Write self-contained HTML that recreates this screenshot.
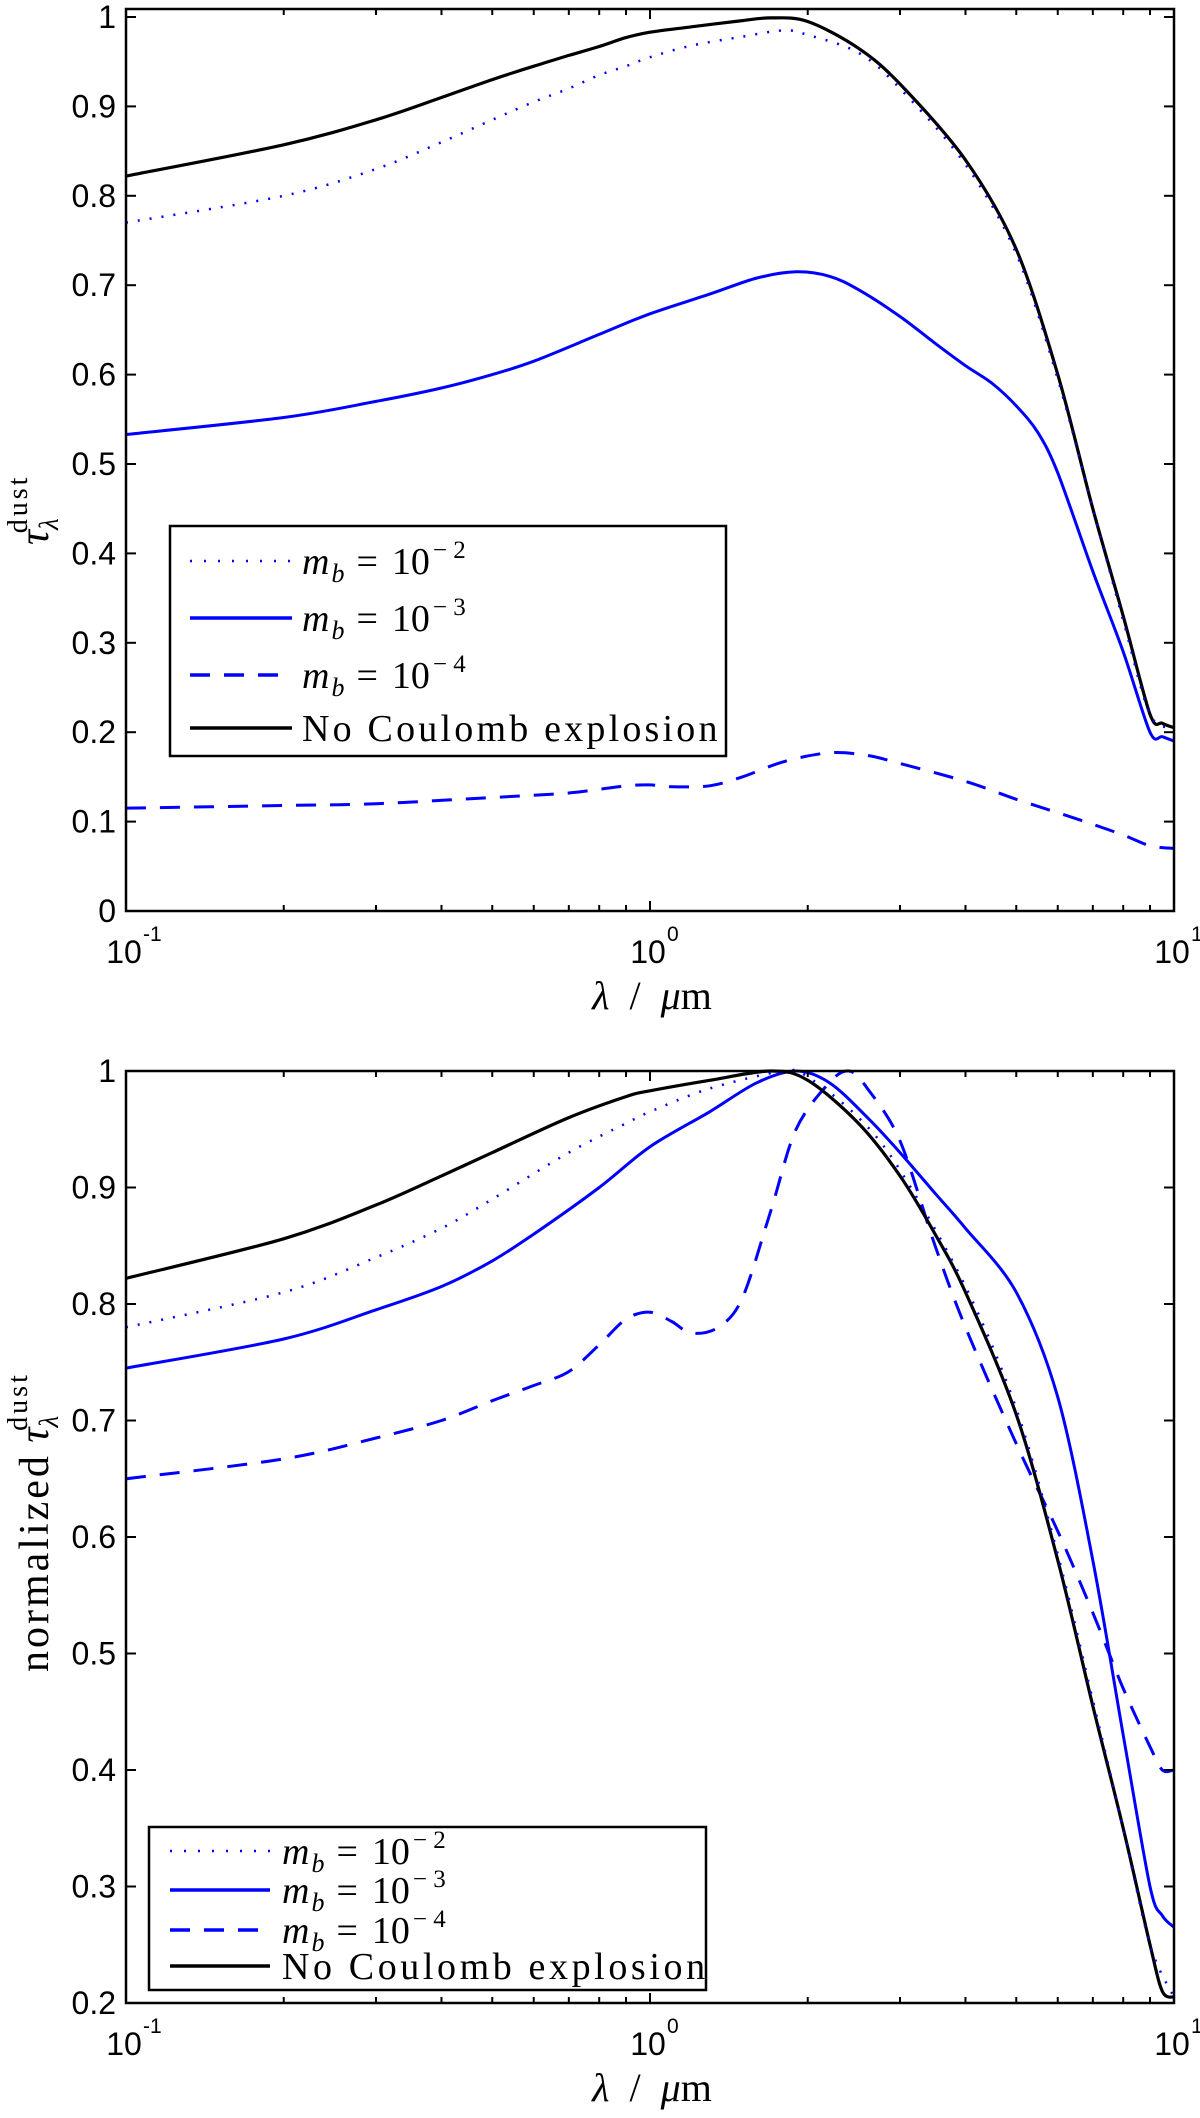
<!DOCTYPE html>
<html><head><meta charset="utf-8"><style>
html,body{margin:0;padding:0;background:#fff;}
svg{display:block;}
.tk{font-family:"Liberation Sans",sans-serif;font-size:32px;fill:#000;}
.sr{font-family:"Liberation Serif",serif;fill:#000;}
</style></head><body>
<svg id="fig" width="1200" height="2118" viewBox="0 0 1200 2118" xmlns="http://www.w3.org/2000/svg"></svg>
<script>
const xTicks=[0.1,1,10];
const xTickExp=["-1","0","1"];
const topYTicks=[0,0.1,0.2,0.3,0.4,0.5,0.6,0.7,0.8,0.9,1];
const topYLabels=["0","0.1","0.2","0.3","0.4","0.5","0.6","0.7","0.8","0.9","1"];
const botYTicks=[0.2,0.3,0.4,0.5,0.6,0.7,0.8,0.9,1];
const botYLabels=["0.2","0.3","0.4","0.5","0.6","0.7","0.8","0.9","1"];

const topBlackX=[0.1,0.2,0.3,0.4,0.5,0.6,0.7,0.8,0.9,1,1.2,1.5,1.7,2,2.5,3,4,5,6,7,8,9,9.5,10];
const topBlackY=[0.822,0.857,0.885,0.91,0.93,0.945,0.957,0.967,0.977,0.983,0.989,0.996,0.999,0.995,0.965,0.925,0.84,0.74,0.6,0.45,0.33,0.22,0.21,0.205];
const topDotX=[0.1,0.2,0.3,0.4,0.5,0.6,0.7,0.8,0.9,1,1.2,1.5,1.8,2,2.5,3,4,5,6,7,8,9,10];
const topDotY=[0.77,0.8,0.83,0.86,0.885,0.905,0.92,0.935,0.945,0.955,0.968,0.978,0.985,0.98,0.96,0.92,0.835,0.735,0.595,0.45,0.325,0.22,0.205];
const topSolidX=[0.1,0.2,0.3,0.4,0.5,0.6,0.8,1,1.3,1.6,1.9,2.2,2.5,3,3.5,4,4.5,5,5.5,6,7,8,9,9.5,10];
const topSolidY=[0.533,0.552,0.57,0.585,0.6,0.615,0.645,0.668,0.69,0.708,0.715,0.71,0.695,0.665,0.635,0.61,0.59,0.565,0.535,0.49,0.38,0.29,0.2,0.195,0.19];
const topDashX=[0.1,0.2,0.3,0.5,0.7,0.9,1,1.1,1.3,1.5,1.8,2.2,2.6,3,4,5,6,7,8,9,10];
const topDashY=[0.115,0.118,0.12,0.127,0.132,0.14,0.141,0.139,0.14,0.15,0.167,0.177,0.174,0.165,0.145,0.125,0.11,0.097,0.085,0.073,0.07];

const botBlackX=[0.1,0.2,0.3,0.4,0.5,0.7,0.9,1,1.3,1.7,2,2.5,3,3.5,4,5,6,7,8,9,9.5,10];
const botBlackY=[0.822,0.856,0.885,0.91,0.93,0.96,0.978,0.983,0.992,1.0,0.992,0.955,0.91,0.86,0.81,0.705,0.58,0.455,0.35,0.25,0.21,0.205];
const botDotX=[0.1,0.2,0.3,0.4,0.5,0.7,0.9,1,1.3,1.8,2,2.5,3,4,5,6,7,8,9,10];
const botDotY=[0.78,0.81,0.84,0.865,0.89,0.93,0.955,0.965,0.985,1.0,0.995,0.96,0.915,0.815,0.71,0.585,0.46,0.35,0.25,0.205];
const botSolidX=[0.1,0.2,0.3,0.4,0.5,0.6,0.8,1,1.3,1.6,1.9,2.2,2.6,3,3.5,4,5,6,7,8,9,9.5,10];
const botSolidY=[0.745,0.77,0.795,0.815,0.837,0.86,0.9,0.935,0.965,0.99,1.0,0.99,0.96,0.93,0.895,0.865,0.81,0.72,0.58,0.43,0.3,0.275,0.265];
const botDashX=[0.1,0.2,0.3,0.4,0.5,0.6,0.7,0.8,0.9,1,1.1,1.2,1.35,1.5,1.7,1.9,2.2,2.4,2.6,3,3.5,4,5,6,7,8,9,9.5,10];
const botDashY=[0.65,0.667,0.685,0.7,0.717,0.73,0.742,0.765,0.787,0.793,0.785,0.775,0.78,0.805,0.88,0.95,0.99,1.0,0.985,0.94,0.85,0.78,0.68,0.605,0.535,0.47,0.42,0.4,0.4];

const NS="http://www.w3.org/2000/svg";
const svg=document.getElementById('fig');
function mk(tag,attrs,parent){const e=document.createElementNS(NS,tag);for(const k in attrs)e.setAttribute(k,attrs[k]);(parent||svg).appendChild(e);return e;}
const X0=126,X1=1174;
function xs(v){return X0+(X1-X0)*(Math.log10(v)+1)/2;}
function smooth(P){
  let d='M'+P[0][0].toFixed(1)+','+P[0][1].toFixed(1);
  for(let i=0;i<P.length-1;i++){
    const p0=P[Math.max(0,i-1)],p1=P[i],p2=P[i+1],p3=P[Math.min(P.length-1,i+2)];
    const t=0.16;
    const c1=[p1[0]+(p2[0]-p0[0])*t,p1[1]+(p2[1]-p0[1])*t];
    const c2=[p2[0]-(p3[0]-p1[0])*t,p2[1]-(p3[1]-p1[1])*t];
    d+=' C'+c1.map(v=>v.toFixed(1)).join(',')+' '+c2.map(v=>v.toFixed(1)).join(',')+' '+p2[0].toFixed(1)+','+p2[1].toFixed(1);
  }
  return d;
}

function panel(cfg){
  const g=mk('g',{});
  
  
  const ys=v=>cfg.yb+(v-cfg.ymin)*(cfg.yt1-cfg.yb)/(1-cfg.ymin);
  cfg.series.forEach(s=>{
    const P=s.x.map((v,i)=>[xs(v),ys(s.y[i])]);
    const p=mk('path',{d:smooth(P),fill:'none',stroke:s.color,'stroke-width':s.w,'stroke-linejoin':'round'},g);
    if(s.dash)p.setAttribute('stroke-dasharray',s.dash);
    
    
  });
  const box=mk('rect',{x:X0,y:cfg.top,width:X1-X0,height:cfg.yb-cfg.top,fill:'none',stroke:'#000','stroke-width':2.5},g);
  
  
  cfg.yticks.forEach((v,i)=>{
    const y=ys(v);
    mk('line',{x1:X0,x2:X0+10,y1:y,y2:y,stroke:'#000','stroke-width':2},g);
    mk('line',{x1:X1,x2:X1-10,y1:y,y2:y,stroke:'#000','stroke-width':2},g);
    const t=mk('text',{x:116,y:y+11,'text-anchor':'end',class:'tk'},g);
    t.textContent=cfg.ylabels[i];
    
    
  });
  for(let d=-1;d<1;d++){for(let m=1;m<10;m++){const v=m*Math.pow(10,d);const x=xs(v);const L=m===1?10:6;
    mk('line',{x1:x,x2:x,y1:cfg.yb,y2:cfg.yb-L,stroke:'#000','stroke-width':2},g);
    mk('line',{x1:x,x2:x,y1:cfg.top,y2:cfg.top+L,stroke:'#000','stroke-width':2},g);}}
  xTicks.forEach((v,i)=>{
    const x=xs(v);
    const t=mk('text',{x:x-2,y:cfg.yb+52,'text-anchor':'middle',class:'tk'},g);
    t.textContent='10';
    
    
    const e=mk('text',{x:x+17,y:cfg.yb+30,class:'tk'},g);
    e.style.fontSize='21px';
    e.textContent=xTickExp[i];
  });
  const xl=mk('text',{x:652,y:cfg.yb+98,'text-anchor':'middle',class:'sr','font-size':'40'},g);
  xl.innerHTML='<tspan font-style="italic">λ</tspan>  /  <tspan font-style="italic">μ</tspan>m';
  xl.style.whiteSpace='pre';
  
  
  const yl=mk('text',{transform:`translate(${cfg.ylx},${cfg.yly}) rotate(-90)`,'text-anchor':'start',class:'sr','font-size':'42'},g);
  yl.innerHTML=cfg.ylab;
  
  
  const L=cfg.leg;
  const lg=mk('g',{},g);
  
  
  mk('rect',{x:L.x,y:L.y,width:L.w,height:L.h,fill:'#fff',stroke:'#000','stroke-width':2.5},lg);
  const ex=['2','3','4'];
  const styles=[{c:'#0000ff',d:'2 12',w:2.5},{c:'#0000ff',d:null,w:3.5},{c:'#0000ff',d:'20 14',w:3.5},{c:'#000',d:null,w:3.5}];
  const names=['legend-entry-mb-1e-2','legend-entry-mb-1e-3','legend-entry-mb-1e-4','legend-entry-no-coulomb'];
  L.ys.forEach((y,i)=>{
    const eg=mk('g',{},lg);
    
    
    const ln=mk('line',{x1:L.lx1,x2:L.lx2,y1:y,y2:y,stroke:styles[i].c,'stroke-width':styles[i].w},eg);
    if(styles[i].d)ln.setAttribute('stroke-dasharray',styles[i].d);
    const t=mk('text',{x:L.tx,y:y+13,class:'sr','font-size':'38'},eg);
    if(i<3){
      t.innerHTML='<tspan font-style="italic">m</tspan><tspan dy="8" font-size="26" font-style="italic" dx="2">b</tspan><tspan dy="-8" dx="12">=</tspan><tspan dx="14">10</tspan><tspan dy="-16" font-size="25" dx="3">− '+ex[i]+'</tspan>';
    } else {
      t.setAttribute('letter-spacing',L.ls);
      t.textContent='No Coulomb explosion';
    }
  });
}
const ser=(a)=>[
 {name:'series-mb-1e-4',x:a[6],y:a[7],color:'#0000ff',w:3,dash:'20 14'},
 {name:'series-mb-1e-3',x:a[4],y:a[5],color:'#0000ff',w:3},
 {name:'series-no-coulomb',x:a[0],y:a[1],color:'#000',w:3.2},
 {name:'series-mb-1e-2',x:a[2],y:a[3],color:'#0000ff',w:2.5,dash:'2 10'}];
const tauLab='<tspan font-style="italic">τ</tspan><tspan dy="10" font-size="27" font-style="italic">λ</tspan><tspan dy="-31" dx="-15" font-size="28" letter-spacing="3">dust</tspan>';
panel({name:'top-panel',top:9,yb:911,ymin:0,yt1:17,yticks:topYTicks,ylabels:topYLabels,
  ylx:48,yly:545,ylab:tauLab,
  series:ser([topBlackX,topBlackY,topDotX,topDotY,topSolidX,topSolidY,topDashX,topDashY]),
  leg:{x:170,y:526,w:556,h:230,ys:[561,618,675,728],lx1:190,lx2:292,tx:302,ls:3.2}});
panel({name:'bottom-panel',top:1071,yb:2003,ymin:0.2,yt1:1071,yticks:botYTicks,ylabels:botYLabels,
  ylx:48,yly:1672,ylab:'<tspan letter-spacing="3">normalized</tspan> '+tauLab,
  series:ser([botBlackX,botBlackY,botDotX,botDotY,botSolidX,botSolidY,botDashX,botDashY]),
  leg:{x:149,y:1827,w:557,h:163,ys:[1851,1890,1930,1966],lx1:170,lx2:270,tx:282,ls:3.6}});
</script>
</body></html>
